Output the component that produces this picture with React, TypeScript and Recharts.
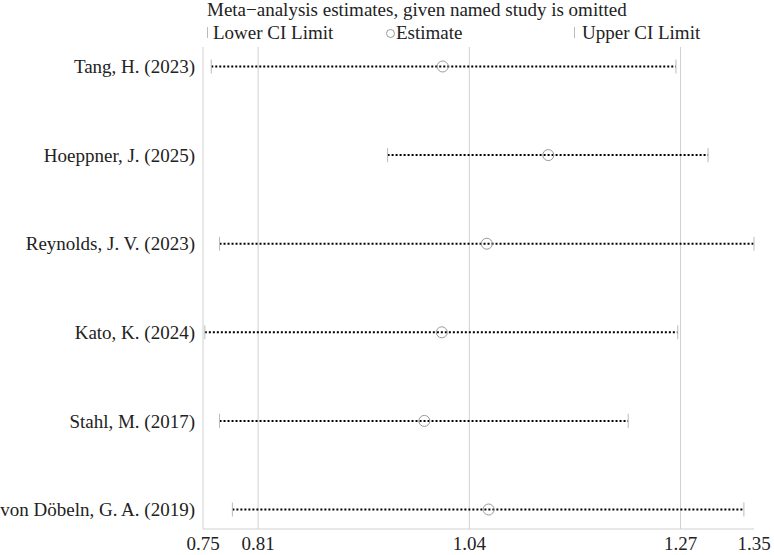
import {
  ReferenceLine,
  Scatter,
  ScatterChart,
  XAxis,
  YAxis,
} from "recharts";

const studies = [
  "Tang, H. (2023)",
  "Hoeppner, J. (2025)",
  "Reynolds, J. V. (2023)",
  "Kato, K. (2024)",
  "Stahl, M. (2017)",
  "von Döbeln, G. A. (2019)",
];
const lowerCI = [0.759, 0.951, 0.768, 0.752, 0.768, 0.782];
const estimates = [1.011, 1.126, 1.059, 1.01, 0.991, 1.061];
const upperCI = [1.265, 1.3, 1.35, 1.267, 1.213, 1.339];
const xTicks = [0.75, 0.81, 1.04, 1.27, 1.35];
const gridValues = [0.75, 0.81, 1.04, 1.27];

const FONT = '"Liberation Serif", "Times New Roman", serif';
const GRID = "#d0d0d0";
const FS = 19;

const rows = studies.map((name, i) => ({
  name,
  idx: i,
  segment: [
    { x: lowerCI[i], y: i },
    { x: upperCI[i], y: i },
  ],
  est: { x: estimates[i], y: i },
}));

function CapShape(props: any) {
  const { cx, cy } = props;
  if (cx == null || cy == null) return null;
  return <line x1={cx} x2={cx} y1={cy - 7} y2={cy + 7} stroke="#bbbbbb" strokeWidth={1} />;
}

function EstShape(props: any) {
  const { cx, cy } = props;
  if (cx == null || cy == null) return null;
  return <circle cx={cx} cy={cy} r={5.5} fill="none" stroke="#999999" strokeWidth={1} />;
}

export default function App() {
  return (
    <div style={{ position: "absolute", left: 0, top: 0, width: 774, height: 555, fontFamily: FONT }}>
      <div style={{ position: "absolute", left: 207, top: 0, fontSize: FS, lineHeight: "19px", color: "#222", whiteSpace: "nowrap" }}>
        Meta−analysis estimates, given named study is omitted
      </div>
      <div style={{ position: "absolute", left: 0, top: 23, width: 774, height: 20, fontSize: FS, lineHeight: "19px", color: "#222" }}>
        <span style={{ position: "absolute", left: 207, top: 4, width: 1, height: 11, background: "#bbb" }} />
        <span style={{ position: "absolute", left: 213, top: 0, whiteSpace: "nowrap" }}>Lower CI Limit</span>
        <span style={{ position: "absolute", left: 386, top: 6, width: 9, height: 9, borderRadius: "50%", border: "1px solid #999", boxSizing: "border-box" }} />
        <span style={{ position: "absolute", left: 396, top: 0, whiteSpace: "nowrap" }}>Estimate</span>
        <span style={{ position: "absolute", left: 574, top: 4, width: 1, height: 11, background: "#bbb" }} />
        <span style={{ position: "absolute", left: 582, top: 0, whiteSpace: "nowrap" }}>Upper CI Limit</span>
      </div>
      <ScatterChart
        width={774}
        height={555}
        margin={{ top: 47, right: 20, left: 0, bottom: 0 }}
        style={{ position: "absolute", left: 0, top: 0 }}
      >
        <XAxis
          type="number"
          dataKey="x"
          domain={[0.75, 1.35]}
          ticks={xTicks}
          interval={0}
          height={26}
          tickLine={false}
          axisLine={{ stroke: GRID }}
          tickMargin={2}
          tickFormatter={(v) => Number(v).toFixed(2)}
          tick={{ fontSize: FS, fill: "#222", fontFamily: FONT }}
        />
        <YAxis
          type="number"
          dataKey="y"
          domain={[-0.22, 5.22]}
          reversed
          ticks={rows.map((r) => r.idx)}
          interval={0}
          width={203}
          tickLine={false}
          axisLine={false}
          tickFormatter={(v) => studies[v] ?? ""}
          tick={{ fontSize: FS, fill: "#222", fontFamily: FONT }}
        />
        {gridValues.map((v) => (
          <ReferenceLine key={v} x={v} stroke={GRID} strokeWidth={1} />
        ))}
        {rows.map((r) => (
          <Scatter
            key={r.name}
            data={r.segment}
            line={{ stroke: "#000", strokeWidth: 2, strokeDasharray: "2 2" }}
            shape={<CapShape />}
            isAnimationActive={false}
          />
        ))}
        <Scatter data={rows.map((r) => r.est)} shape={<EstShape />} isAnimationActive={false} />
      </ScatterChart>
    </div>
  );
}
